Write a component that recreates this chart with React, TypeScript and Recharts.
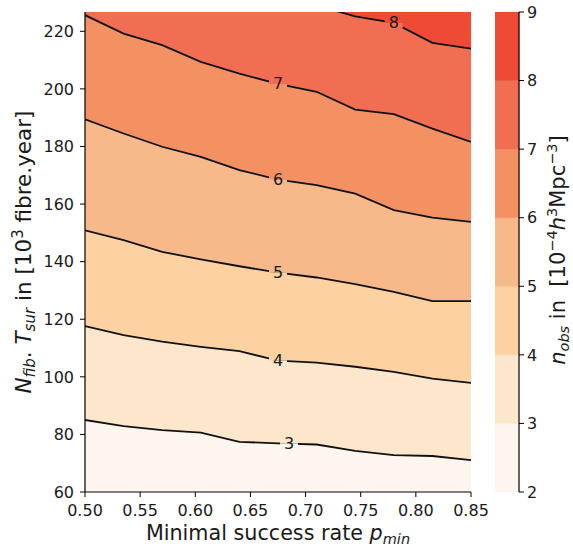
import React from 'react';
import {
  ComposedChart, Area, Line, Scatter, XAxis, YAxis, CartesianGrid,
  BarChart, Bar,
} from 'recharts';

// success rate grid (x)
const P = [0.5, 0.535, 0.57, 0.605, 0.64, 0.675, 0.71, 0.745, 0.78, 0.815, 0.85];
// contour lines: N_fib.T_sur [10^3 fibre.year] at which n_obs equals the level
const L3 = [85.0, 82.9, 81.5, 80.6, 77.4, 76.9, 76.5, 74.3, 72.8, 72.5, 71.1];
const L4 = [117.6, 114.5, 112.2, 110.4, 108.9, 105.6, 104.9, 103.5, 101.7, 99.4, 97.9];
const L5 = [150.9, 147.5, 143.4, 140.8, 138.4, 136.2, 134.5, 132.2, 129.5, 126.3, 126.3];
const L6 = [189.4, 184.5, 179.9, 176.4, 171.8, 168.5, 166.6, 163.6, 157.9, 155.3, 153.8];
const L7 = [225.6, 219.2, 215.2, 209.4, 205.3, 201.7, 199.0, 192.8, 191.2, 186.2, 181.6];
const L8 = [236.0, 235.0, 234.0, 233.0, 232.0, 230.5, 229.0, 225.2, 222.9, 216.0, 214.0];

const LEVELS = [2, 3, 4, 5, 6, 7, 8, 9];
const BAND_COLORS = ['#fdf6ee', '#fde7cc', '#fdd2a0', '#f8b98a', '#f49163', '#f26e52', '#ef4a35'];
const X_TICKS = [0.5, 0.55, 0.6, 0.65, 0.7, 0.75, 0.8, 0.85];
const Y_TICKS = [60, 80, 100, 120, 140, 160, 180, 200, 220];
const Y_MIN = 60;
const Y_MAX = 226.7;

// contour label positions (x on the pmin axis)
const LABEL_LEVELS = [3, 4, 5, 6, 7, 8];
const LABEL_X = [0.685, 0.675, 0.675, 0.675, 0.675, 0.78];

const LINES: Record<number, number[]> = { 3: L3, 4: L4, 5: L5, 6: L6, 7: L7, 8: L8 };

const data = P.map((p, i) => ({ p, l3: L3[i], l4: L4[i], l5: L5[i], l6: L6[i], l7: L7[i], l8: L8[i] }));

const interp = (arr: number[], x: number) => {
  for (let i = 0; i < P.length - 1; i++) {
    if (x >= P[i] && x <= P[i + 1]) {
      const t = (x - P[i]) / (P[i + 1] - P[i]);
      return arr[i] + t * (arr[i + 1] - arr[i]);
    }
  }
  return arr[arr.length - 1];
};

const labelData = LABEL_LEVELS.map((lv, i) => ({ p: LABEL_X[i], v: interp(LINES[lv], LABEL_X[i]), level: lv }));

const colorbarRow = [{ name: 'cb', base: LEVELS[0], b0: 1, b1: 1, b2: 1, b3: 1, b4: 1, b5: 1, b6: 1 }];

const FONT = 'DejaVu Sans, sans-serif';
const TXT = '#1a1a1a';
const TICK = { fontSize: 16, fill: TXT, fontFamily: FONT };
const CB_LEFT = 495;

const ContourLabel = (props: any) => {
  const { cx, cy, payload } = props;
  if (cx == null || cy == null) return null;
  const lv = payload.level;
  const lower = BAND_COLORS[lv - 3];
  const upper = BAND_COLORS[lv - 2];
  return (
    <g>
      <rect x={cx - 9} y={cy - 5} width={18} height={5} fill={upper} />
      <rect x={cx - 9} y={cy} width={18} height={5} fill={lower} />
      <text x={cx} y={cy} textAnchor="middle" dominantBaseline="central" fontSize={16} fontFamily={FONT} fill={TXT}>
        {lv}
      </text>
    </g>
  );
};

const XLabel = (props: any) => {
  const vb = props.viewBox || { x: 85, y: 492, width: 386 };
  return (
    <text x={vb.x + vb.width / 2} y={540} textAnchor="middle" fontSize={20.7} fontFamily={FONT} fill={TXT}>
      <tspan>Minimal success rate </tspan>
      <tspan fontStyle="italic">p</tspan>
      <tspan fontStyle="italic" fontSize={14.5} dy={4}>min</tspan>
    </text>
  );
};

const YLabel = () => (
  <text x={31} y={252} transform="rotate(-90, 31, 252)" textAnchor="middle" fontSize={21.5} fontFamily={FONT} fill={TXT}>
    <tspan fontStyle="italic">N</tspan>
    <tspan fontStyle="italic" fontSize={15} dy={4}>fib</tspan>
    <tspan dy={-4}>.{'\u00a0'}</tspan>
    <tspan fontStyle="italic">T</tspan>
    <tspan fontStyle="italic" fontSize={15} dy={4}>sur</tspan>
    <tspan dy={-4}>{'\u00a0'}in [10</tspan>
    <tspan fontSize={15} dy={-8}>3</tspan>
    <tspan dy={8}>{'\u00a0'}fibre.year]</tspan>
  </text>
);

const CbLabel = () => {
  const x = 565 - CB_LEFT;
  return (
    <text x={x} y={250} transform={`rotate(-90, ${x}, 250)`} textAnchor="middle" fontSize={21} fontFamily={FONT} fill={TXT}>
      <tspan fontStyle="italic">n</tspan>
      <tspan fontStyle="italic" fontSize={14.5} dy={4}>obs</tspan>
      <tspan dy={-4}>{'\u00a0'}in{'\u00a0\u00a0'}[10</tspan>
      <tspan fontSize={14.5} dy={-8}>−4</tspan>
      <tspan fontStyle="italic" dy={8}>h</tspan>
      <tspan fontSize={14.5} dy={-8}>3</tspan>
      <tspan dy={8}>Mpc</tspan>
      <tspan fontSize={14.5} dy={-8}>−3</tspan>
      <tspan dy={8}>]</tspan>
    </text>
  );
};

export default function App() {
  return (
    <div style={{ position: 'absolute', left: 0, top: 0, width: 573, height: 549, background: '#fff' }}>
      <div style={{ position: 'absolute', left: 0, top: 0 }}>
        <ComposedChart width={CB_LEFT} height={549} data={data} margin={{ top: 12, right: CB_LEFT - 471, bottom: 27, left: 0 }}>
          <CartesianGrid fill={BAND_COLORS[6]} horizontal={false} vertical={false} stroke="none" />
          <XAxis
            dataKey="p" type="number" domain={[0.5, 0.85]} ticks={X_TICKS} allowDataOverflow
            tickFormatter={(v: number) => v.toFixed(2)} tick={TICK} tickSize={5} tickMargin={8}
            height={30} stroke="#000" tickLine={{ stroke: '#000' }} axisLine={{ stroke: '#000', strokeWidth: 1.2 }}
            label={<XLabel />} interval={0}
          />
          <XAxis
            xAxisId="top" orientation="top" dataKey="p" type="number" domain={[0.5, 0.85]} allowDataOverflow
            tick={false} tickLine={false} height={0} axisLine={{ stroke: '#000', strokeWidth: 1.2 }}
          />
          <YAxis
            type="number" domain={[Y_MIN, Y_MAX]} ticks={Y_TICKS} allowDataOverflow interval={0}
            tick={TICK} tickSize={5} tickMargin={6} width={85}
            tickLine={{ stroke: '#000' }} axisLine={{ stroke: '#000', strokeWidth: 1.2 }}
            label={<YLabel />}
          />
          <YAxis
            yAxisId="r" orientation="right" type="number" domain={[Y_MIN, Y_MAX]} allowDataOverflow
            tick={false} tickLine={false} width={0} axisLine={{ stroke: '#000', strokeWidth: 1.2 }}
          />
          <Area type="linear" dataKey="l8" baseValue={Y_MIN} fill={BAND_COLORS[5]} fillOpacity={1} stroke="none" isAnimationActive={false} />
          <Area type="linear" dataKey="l7" baseValue={Y_MIN} fill={BAND_COLORS[4]} fillOpacity={1} stroke="none" isAnimationActive={false} />
          <Area type="linear" dataKey="l6" baseValue={Y_MIN} fill={BAND_COLORS[3]} fillOpacity={1} stroke="none" isAnimationActive={false} />
          <Area type="linear" dataKey="l5" baseValue={Y_MIN} fill={BAND_COLORS[2]} fillOpacity={1} stroke="none" isAnimationActive={false} />
          <Area type="linear" dataKey="l4" baseValue={Y_MIN} fill={BAND_COLORS[1]} fillOpacity={1} stroke="none" isAnimationActive={false} />
          <Area type="linear" dataKey="l3" baseValue={Y_MIN} fill={BAND_COLORS[0]} fillOpacity={1} stroke="none" isAnimationActive={false} />
          {['l3', 'l4', 'l5', 'l6', 'l7', 'l8'].map((k) => (
            <Line key={k} type="linear" dataKey={k} stroke="#111" strokeWidth={1.8} dot={false} activeDot={false} isAnimationActive={false} />
          ))}
          <Scatter data={labelData} dataKey="v" shape={<ContourLabel />} isAnimationActive={false} />
        </ComposedChart>
      </div>
      <div style={{ position: 'absolute', left: CB_LEFT, top: 0 }}>
        <BarChart width={573 - CB_LEFT} height={549} data={colorbarRow} margin={{ top: 12, right: 0, bottom: 57, left: 0 }} barCategoryGap={0}>
          <XAxis dataKey="name" tick={false} tickLine={false} height={0} axisLine={{ stroke: '#000', strokeWidth: 1.2 }} />
          <XAxis xAxisId="top" orientation="top" dataKey="name" tick={false} tickLine={false} height={0} axisLine={{ stroke: '#000', strokeWidth: 1.2 }} />
          <YAxis
            orientation="right" type="number" domain={[2, 9]} ticks={LEVELS} allowDataOverflow interval={0}
            tick={TICK} tickSize={5} tickMargin={3} width={573 - CB_LEFT - 24}
            tickLine={{ stroke: '#000' }} axisLine={{ stroke: '#000', strokeWidth: 1.2 }}
            label={<CbLabel />}
          />
          <YAxis yAxisId="l" orientation="left" type="number" domain={[2, 9]} tick={false} tickLine={false} width={0} axisLine={{ stroke: '#000', strokeWidth: 1.2 }} />
          <Bar dataKey="base" stackId="cb" fill="none" isAnimationActive={false} />
          {BAND_COLORS.map((c, i) => (
            <Bar key={i} dataKey={`b${i}`} stackId="cb" fill={c} stroke={c} strokeWidth={0.5} isAnimationActive={false} />
          ))}
        </BarChart>
      </div>
    </div>
  );
}
